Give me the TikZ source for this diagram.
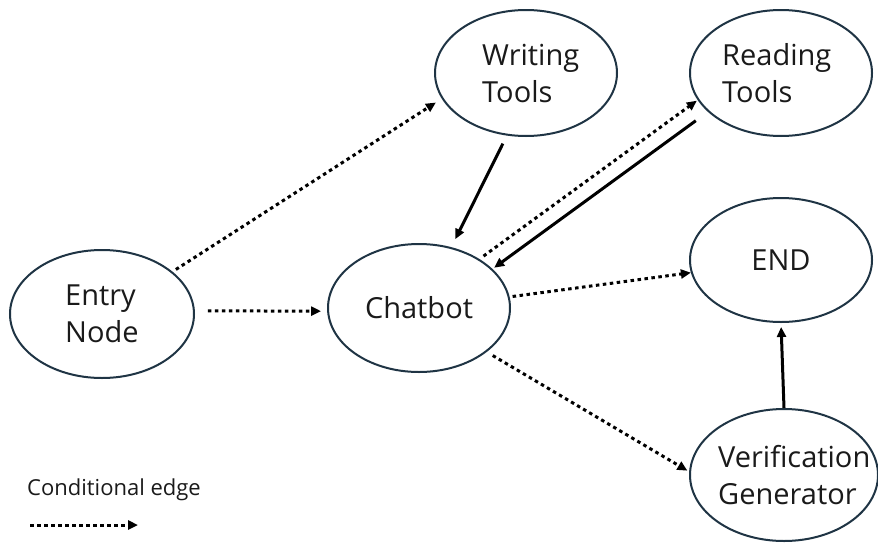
\documentclass[tikz,border=0pt]{standalone}
\usepackage{fontspec}
\setmainfont{Open Sans}
\usetikzlibrary{shapes.geometric,arrows.meta}
\definecolor{rim}{HTML}{1F3444}
\definecolor{ink}{HTML}{1A1A1A}
\tikzset{
  state/.style={draw=rim, line width=2pt, ellipse, inner sep=0pt, fill=white},
  tag/.style={text=ink, font=\fontsize{29}{37}\selectfont, align=left, inner sep=0pt},
  tip/.style={-{Triangle[length=10pt,width=9pt]}},
  flow/.style={tip, line width=3pt, black},
  cond/.style={tip, line width=3pt, black, dash pattern=on 3.5pt off 3.5pt},
}
\begin{document}
\begin{tikzpicture}[x=1pt,y=-1pt]
\useasboundingbox (0,0) rectangle (878,544);

% states, each with its label set flush left inside
\node[state, minimum width=184pt, minimum height=128pt] (entry) at (102,314) {};
\node[tag, anchor=west] (entryT) at ([xshift=-37pt]entry.center) {Entry\\Node};
\node[state, minimum width=182pt, minimum height=126pt] (write) at (526,73) {};
\node[tag, anchor=west] (writeT) at ([xshift=-44pt]write.center) {Writing\\Tools};
\node[state, minimum width=182pt, minimum height=126pt] (read) at (781,73) {};
\node[tag, anchor=west] (readT) at ([xshift=-59pt]read.center) {Reading\\Tools};
\node[state, minimum width=182pt, minimum height=124pt] (endn) at (781,260) {};
\node[tag] (endT) at (endn.center) {END};
\node[state, minimum width=182pt, minimum height=128pt] (chat) at (419,308) {};
\node[tag] (chatT) at (chat.center) {Chatbot};
\node[state, minimum width=188pt, minimum height=132pt] (verif) at (784,475) {};
\node[tag, anchor=west] (verifT) at ([xshift=-66pt]verif.center) {Verification\\Generator};

% edges
\draw[cond, shorten <=4pt, shorten >=7pt] (entry.31) -- (write.197);
\draw[cond, shorten <=13pt, shorten >=6pt] (entry.2) -- (chat.182);
\draw[flow, shorten <=9pt, shorten >=9pt] (write.253) -- (chat.62);
\draw[cond, shorten <=5pt, shorten >=1pt] (chat.39) -- (read.198);
\draw[flow, shorten <=15pt, shorten >=2pt] (read.208) -- (chat.28);
\draw[cond, shorten <=3pt, shorten >=0pt] (chat.7) -- (endn.188);
\draw[cond, shorten <=7pt, shorten >=2pt] (chat.-33) -- (verif.178);
\draw[flow, shorten >=4pt] (verif.north) -- (endn.south);

% legend
\node[text=ink, font=\fontsize{22}{26}\selectfont, inner sep=0pt] (legend) at (114,490) {Conditional edge};
\coordinate (legA) at (30,525);
\coordinate (legB) at (138,525);
\draw[cond] (legA) -- (legB);
\end{tikzpicture}
\end{document}
